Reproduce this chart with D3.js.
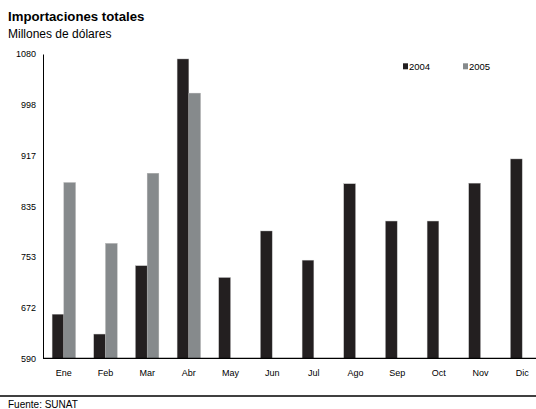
<!DOCTYPE html>
<html><head><meta charset="utf-8">
<script src="https://cdn.jsdelivr.net/npm/d3@7"></script>
<style>body{margin:0;background:#fff}svg{display:block;font-family:"Liberation Sans",Arial,sans-serif}</style>
</head><body>
<svg id="c" width="536" height="409"></svg>
<script>
const months = ["Ene","Feb","Mar","Abr","May","Jun","Jul","Ago","Sep","Oct","Nov","Dic"];
const seriesNames = ["2004","2005"];
const values2004 = [661,629,739,1072,720,795,748,871,811,811,872,911];
const values2005 = [873,775,888,1017,null,null,null,null,null,null,null,null];
const yTicks = [590,672,753,835,917,998,1080];
const colors = ["#231f20","#868a8c"];

const svg = d3.select("#c");
const x0 = d3.scaleBand().domain(months).range([43,543]);
const barW = 11.7;
const x1 = d3.scaleBand().domain(seriesNames)
  .range([(x0.bandwidth()-2*barW)/2, (x0.bandwidth()+2*barW)/2]);
const y = d3.scaleLinear().domain([590,1080]).range([358.3,54]);

svg.append("text").attr("x",8).attr("y",21).attr("font-size",13.2).attr("font-weight","bold").text("Importaciones totales");
svg.append("text").attr("x",8).attr("y",38).attr("font-size",12).text("Millones de dólares");

const data = [values2004, values2005];
data.forEach((vals,si)=>{
  svg.append("g").selectAll("rect").data(months.map((m,i)=>({m,v:vals[i]})).filter(d=>d.v!=null))
    .join("rect")
    .attr("x",d=>x0(d.m)+x1(seriesNames[si]))
    .attr("width",x1.bandwidth())
    .attr("y",d=>y(d.v))
    .attr("height",d=>y(590)-y(d.v))
    .attr("fill",colors[si])
    .attr("stroke","#b0b0b0").attr("stroke-width",0.4);
});

// y axis
const ya = svg.append("g").attr("transform","translate(43,0)")
  .call(d3.axisLeft(y).tickValues(yTicks).tickSize(0).tickPadding(7).tickFormat(d3.format("d")));
ya.select(".domain").attr("stroke","#000").attr("stroke-width",1);
ya.selectAll("text").attr("font-size",9).attr("font-family","Liberation Sans, Arial, sans-serif").attr("fill","#000");

// x axis
const xa = svg.append("g").attr("transform","translate(0,358.3)")
  .call(d3.axisBottom(x0).tickSize(0).tickPadding(11));
xa.select(".domain").remove();
xa.selectAll("text").attr("font-size",9).attr("font-family","Liberation Sans, Arial, sans-serif").attr("fill","#000");
svg.append("line").attr("x1",43).attr("x2",536).attr("y1",358.3).attr("y2",358.3).attr("stroke","#000").attr("stroke-width",1.2);

// legend
const lg = svg.append("g");
seriesNames.forEach((s,i)=>{
  const lx = 403 + i*60;
  lg.append("rect").attr("x",lx).attr("y",63.3).attr("width",5).attr("height",6).attr("fill",colors[i]);
  lg.append("text").attr("x",lx+6).attr("y",69.5).attr("font-size",9.5).text(s);
});

svg.append("line").attr("x1",0).attr("x2",536).attr("y1",396).attr("y2",396).attr("stroke","#000").attr("stroke-width",1.5);
svg.append("text").attr("x",8).attr("y",408).attr("font-size",10).text("Fuente: SUNAT");
</script>
</body></html>
